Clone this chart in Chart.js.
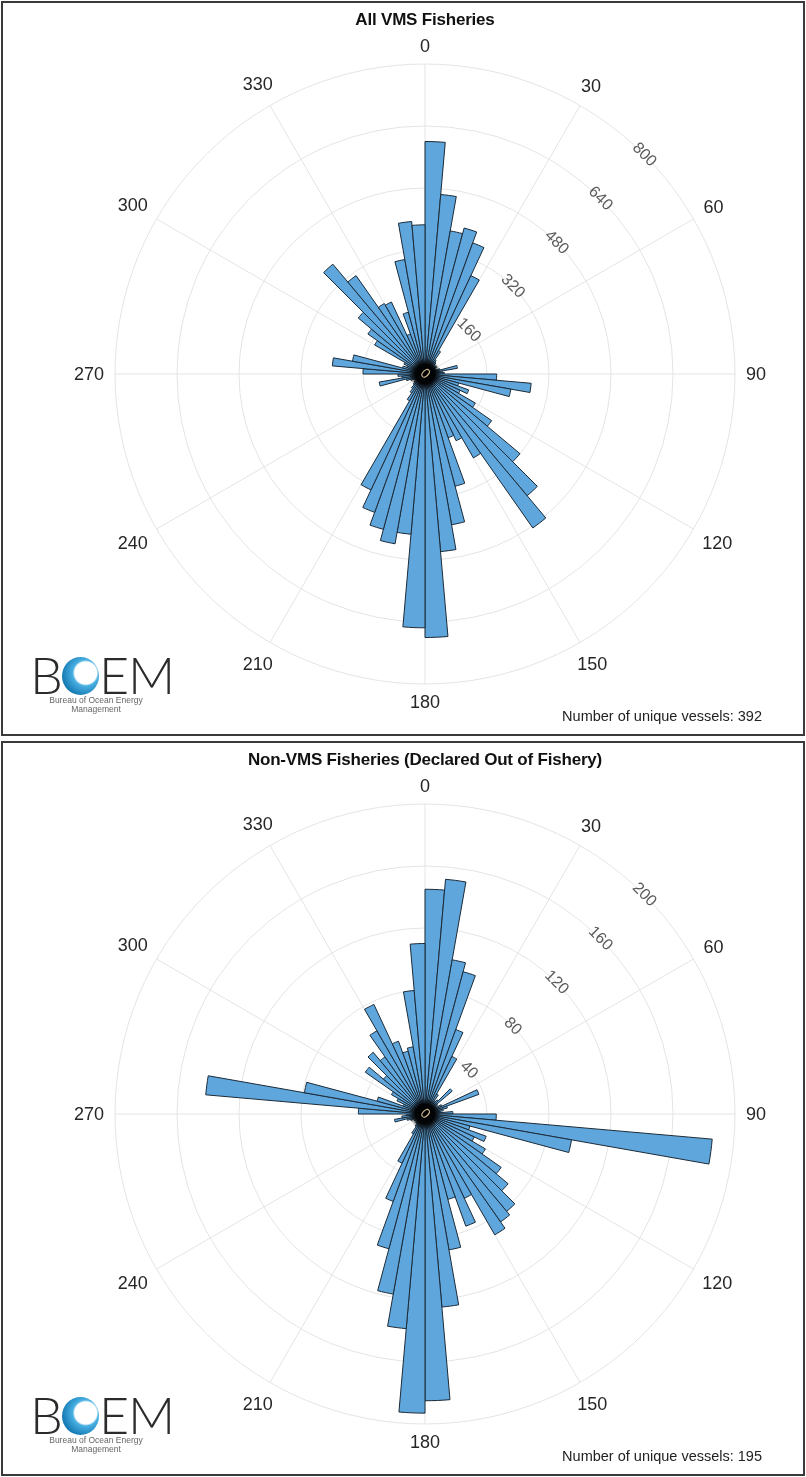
<!DOCTYPE html>
<html>
<head>
<meta charset="utf-8">
<script src="https://cdn.jsdelivr.net/npm/chart.js@4.4.1/dist/chart.umd.min.js"></script>
<style>
  html, body { margin: 0; padding: 0; background: #fff; }
  body { width: 806px; height: 1477px; position: relative; overflow: hidden; font-family: "Liberation Sans", Arial, sans-serif; }
  .panel { position: absolute; left: 0; width: 806px; height: 737px; }
  .panel canvas { position: absolute; left: 0; top: 0; }
  .frame { position: absolute; left: 1px; top: 1px; right: 1px; bottom: 1px; border: 2px solid #3a3a3a; pointer-events: none; }
  .title { position: absolute; left: 0; width: 850px; top: 10px; text-align: center; font-weight: bold; font-size: 17px; color: #111; letter-spacing: -0.2px; }
  .count { position: absolute; right: 44px; top: 708px; font-size: 14.5px; color: #222; }
  .logo { position: absolute; left: 30px; top: 652px; width: 146px; }
  .boem { font-family: Lato, "Liberation Sans", sans-serif; font-weight: 300; font-size: 52px; line-height: 44px; color: #2b2b2b; letter-spacing: -1px; white-space: nowrap; }
  .boem .o { display: inline-block; width: 37px; height: 38px; border-radius: 50%; color: transparent; overflow: hidden; vertical-align: -1px;
             background: radial-gradient(circle at 64% 42%, #fff 0, #fff 34%, #49b0e2 40%, #1a7fb8 70%, #0d5a8a 100%); }
  .sub { font-size: 8.5px; line-height: 9px; color: #666; text-align: center; width: 132px; }
</style>
</head>
<body>

<div class="panel" style="top:0">
  <canvas id="vmsChart" width="806" height="737"></canvas>
  <div class="title">All VMS Fisheries</div>
  <div class="logo">
    <div class="boem">B<span class="o">O</span>EM</div>
    <div class="sub">Bureau of Ocean Energy<br>Management</div>
  </div>
  <div class="count">Number of unique vessels: 392</div>
  <div class="frame"></div>
</div>

<div class="panel" style="top:740px">
  <canvas id="nonVmsChart" width="806" height="737"></canvas>
  <div class="title">Non-VMS Fisheries (Declared Out of Fishery)</div>
  <div class="logo">
    <div class="boem">B<span class="o">O</span>EM</div>
    <div class="sub">Bureau of Ocean Energy<br>Management</div>
  </div>
  <div class="count">Number of unique vessels: 195</div>
  <div class="frame"></div>
</div>

<script>
// ==== DỮ LIỆU ====
// hướng (độ) bắt đầu của mỗi bin 5°
const binStarts = [
  0, 5, 10, 15, 20, 25, 30, 35, 40, 45, 50, 55,
  60, 65, 70, 75, 80, 85, 90, 95, 100, 105, 110, 115,
  120, 125, 130, 135, 140, 145, 150, 155, 160, 165, 170, 175,
  180, 185, 190, 195, 200, 205, 210, 215, 220, 225, 230, 235,
  240, 245, 250, 255, 260, 265, 270, 275, 280, 285, 290, 295,
  300, 305, 310, 315, 320, 325, 330, 335, 340, 345, 350, 355
];

const angleLabels = ["0", "30", "60", "90", "120", "150", "180", "210", "240", "270", "300", "330"];

// All VMS Fisheries
const vmsValues = [
  600, 465, 375, 390, 360, 280, 70, 45, 40, 35, 30, 35,
  25, 30, 40, 85, 45, 50, 185, 275, 225, 90, 120, 100,
  150, 210, 320, 410, 485, 250, 190, 175, 300, 395, 460, 680,
  655, 415, 445, 415, 380, 330, 80, 60, 50, 40, 35, 30,
  30, 40, 50, 120, 60, 70, 160, 240, 190, 60, 50, 60,
  150, 180, 225, 370, 310, 210, 205, 110, 165, 300, 395, 385
];
const vmsTicks = [160, 320, 480, 640, 800];

// Non-VMS Fisheries
const nonVmsValues = [
  145, 152, 101, 95, 58, 41, 15, 10, 12, 23, 10, 8,
  12, 37, 15, 12, 10, 18, 46, 186, 96, 30, 42, 35,
  45, 60, 70, 82, 85, 90, 60, 77, 57, 89, 125, 185,
  193, 139, 118, 90, 60, 35, 15, 10, 8, 8, 6, 8,
  6, 10, 12, 20, 15, 12, 43, 142, 79, 32, 15, 20,
  25, 47, 35, 52, 45, 62, 78, 50, 42, 44, 80, 110
];
const nonVmsTicks = [40, 80, 120, 160, 200];

// ==== PLUGIN: nhãn góc + nhãn bán kính ====
const polarLabels = {
  id: "polarLabels",
  afterDatasetsDraw(chart, args, opts) {
    const r = chart.scales.r;
    const ctx = chart.ctx;
    ctx.save();
    ctx.textAlign = "center";
    ctx.textBaseline = "middle";

    // nhãn góc 0..330, cách vòng ngoài một khoảng cố định
    ctx.font = '18px "Liberation Sans", Arial, sans-serif';
    ctx.fillStyle = "#262626";
    angleLabels.forEach((t, k) => {
      const th = (k * 30 * Math.PI) / 180;
      const w = ctx.measureText(t).width;
      const ext = Math.abs(Math.sin(th)) * w / 2 + Math.abs(Math.cos(th)) * 7;
      const p = r.getPointPosition(k * 6, r.drawingArea + 11 + ext);
      ctx.fillText(t, p.x, p.y + 1);
    });

    // nhãn bán kính theo hướng 45°
    ctx.font = '16px "Liberation Sans", Arial, sans-serif';
    ctx.fillStyle = "#5a5a5a";
    const a = Math.PI / 4 - Math.PI / 2;
    opts.ticks.forEach((v) => {
      const d = r.getDistanceFromCenterForValue(v);
      ctx.save();
      ctx.translate(r.xCenter + Math.cos(a) * d, r.yCenter + Math.sin(a) * d);
      ctx.rotate(Math.PI / 4);
      ctx.fillText(String(v), 0, 0);
      ctx.restore();
    });

    // tâm tối + số 0
    const g = ctx.createRadialGradient(r.xCenter, r.yCenter, 0, r.xCenter, r.yCenter, 16);
    g.addColorStop(0, "rgba(0,0,0,1)");
    g.addColorStop(0.6, "rgba(0,0,0,0.9)");
    g.addColorStop(1, "rgba(0,0,0,0)");
    ctx.fillStyle = g;
    ctx.beginPath();
    ctx.arc(r.xCenter, r.yCenter, 16, 0, Math.PI * 2);
    ctx.fill();

    ctx.save();
    ctx.translate(r.xCenter, r.yCenter);
    ctx.rotate(Math.PI / 4);
    ctx.font = '14px "Liberation Sans", Arial, sans-serif';
    ctx.fillStyle = "#cdb98f";
    ctx.fillText("0", 0, 0);
    ctx.restore();

    ctx.restore();
  }
};

function makeRose(id, values, ticks) {
  const max = ticks[ticks.length - 1];
  return new Chart(document.getElementById(id), {
    type: "polarArea",
    data: {
      labels: binStarts,
      datasets: [{
        data: values,
        backgroundColor: "#5ea6db",
        borderColor: "#1b2a38",
        borderWidth: 1
      }]
    },
    options: {
      responsive: false,
      animation: false,
      layout: { padding: { left: 115, right: 71, top: 64, bottom: 53 } },
      plugins: {
        legend: { display: false },
        tooltip: { enabled: false },
        polarLabels: { ticks: ticks }
      },
      scales: {
        r: {
          min: 0,
          max: max,
          startAngle: 0,
          ticks: { display: false, stepSize: ticks[0] },
          grid: { circular: true, color: "#e4e4e4", lineWidth: 1 },
          angleLines: {
            display: true,
            lineWidth: 1,
            color: (c) => (c.index % 6 === 0 ? "#e4e4e4" : "rgba(0,0,0,0)")
          },
          pointLabels: { display: false }
        }
      }
    },
    plugins: [polarLabels]
  });
}

makeRose("vmsChart", vmsValues, vmsTicks);
makeRose("nonVmsChart", nonVmsValues, nonVmsTicks);
</script>
</body>
</html>
